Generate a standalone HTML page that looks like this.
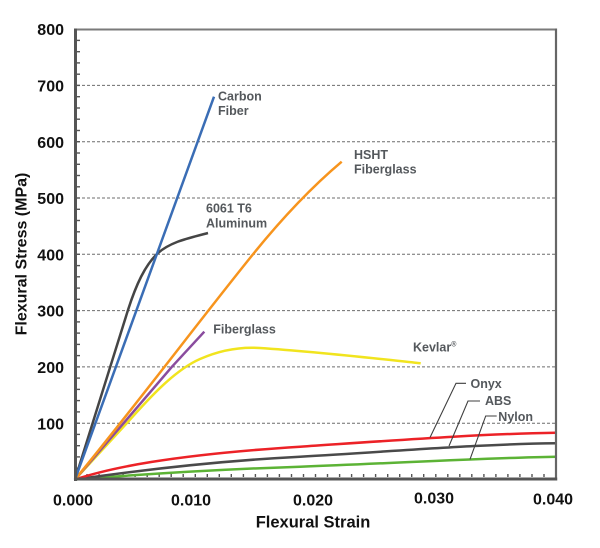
<!DOCTYPE html>
<html>
<head>
<meta charset="utf-8">
<style>
  html, body { margin: 0; padding: 0; background: #ffffff; }
  body { width: 600px; height: 548px; overflow: hidden; }
  svg { display: block; }
  .ax { font-family: "Liberation Sans", sans-serif; font-weight: bold; fill: #111; }
  .lb { font-family: "Liberation Sans", sans-serif; font-weight: bold; fill: #54585c; font-size: 12.5px; }
</style>
</head>
<body>
<svg width="600" height="548" viewBox="0 0 600 548" xmlns="http://www.w3.org/2000/svg">
  <rect x="0" y="0" width="600" height="548" fill="#ffffff"/>

  <!-- gridlines -->
  <g stroke="#6d6d6d" stroke-width="1" stroke-dasharray="3 2" fill="none">
    <line x1="77" y1="423.2" x2="555" y2="423.2"/>
    <line x1="77" y1="366.9" x2="555" y2="366.9"/>
    <line x1="77" y1="310.6" x2="555" y2="310.6"/>
    <line x1="77" y1="254.3" x2="555" y2="254.3"/>
    <line x1="77" y1="198.0" x2="555" y2="198.0"/>
    <line x1="77" y1="141.7" x2="555" y2="141.7"/>
    <line x1="77" y1="85.4" x2="555" y2="85.4"/>
  </g>

  <!-- left minor ticks (every 20 MPa) -->
  <g stroke="#555" stroke-width="1.4">
    <line x1="77" y1="468.2" x2="80" y2="468.2"/>
    <line x1="77" y1="456.9" x2="80" y2="456.9"/>
    <line x1="77" y1="445.7" x2="80" y2="445.7"/>
    <line x1="77" y1="434.4" x2="80" y2="434.4"/>
    <line x1="77" y1="423.2" x2="80" y2="423.2"/>
    <line x1="77" y1="411.9" x2="80" y2="411.9"/>
    <line x1="77" y1="400.6" x2="80" y2="400.6"/>
    <line x1="77" y1="389.4" x2="80" y2="389.4"/>
    <line x1="77" y1="378.1" x2="80" y2="378.1"/>
    <line x1="77" y1="366.9" x2="80" y2="366.9"/>
    <line x1="77" y1="355.6" x2="80" y2="355.6"/>
    <line x1="77" y1="344.4" x2="80" y2="344.4"/>
    <line x1="77" y1="333.1" x2="80" y2="333.1"/>
    <line x1="77" y1="321.9" x2="80" y2="321.9"/>
    <line x1="77" y1="310.6" x2="80" y2="310.6"/>
    <line x1="77" y1="299.3" x2="80" y2="299.3"/>
    <line x1="77" y1="288.1" x2="80" y2="288.1"/>
    <line x1="77" y1="276.8" x2="80" y2="276.8"/>
    <line x1="77" y1="265.6" x2="80" y2="265.6"/>
    <line x1="77" y1="254.3" x2="80" y2="254.3"/>
    <line x1="77" y1="243.1" x2="80" y2="243.1"/>
    <line x1="77" y1="231.8" x2="80" y2="231.8"/>
    <line x1="77" y1="220.5" x2="80" y2="220.5"/>
    <line x1="77" y1="209.3" x2="80" y2="209.3"/>
    <line x1="77" y1="198.0" x2="80" y2="198.0"/>
    <line x1="77" y1="186.8" x2="80" y2="186.8"/>
    <line x1="77" y1="175.5" x2="80" y2="175.5"/>
    <line x1="77" y1="164.3" x2="80" y2="164.3"/>
    <line x1="77" y1="153.0" x2="80" y2="153.0"/>
    <line x1="77" y1="141.7" x2="80" y2="141.7"/>
    <line x1="77" y1="130.5" x2="80" y2="130.5"/>
    <line x1="77" y1="119.2" x2="80" y2="119.2"/>
    <line x1="77" y1="108.0" x2="80" y2="108.0"/>
    <line x1="77" y1="96.7" x2="80" y2="96.7"/>
    <line x1="77" y1="85.4" x2="80" y2="85.4"/>
    <line x1="77" y1="74.2" x2="80" y2="74.2"/>
    <line x1="77" y1="62.9" x2="80" y2="62.9"/>
    <line x1="77" y1="51.7" x2="80" y2="51.7"/>
    <line x1="77" y1="40.4" x2="80" y2="40.4"/>
  </g>

  <!-- bottom minor ticks (every 0.001) -->
  <g stroke="#555" stroke-width="1.4">
    <line x1="87.0" y1="477" x2="87.0" y2="474"/>
    <line x1="99.1" y1="477" x2="99.1" y2="474"/>
    <line x1="111.1" y1="477" x2="111.1" y2="474"/>
    <line x1="123.1" y1="477" x2="123.1" y2="474"/>
    <line x1="135.1" y1="477" x2="135.1" y2="474"/>
    <line x1="147.2" y1="477" x2="147.2" y2="474"/>
    <line x1="159.2" y1="477" x2="159.2" y2="474"/>
    <line x1="171.2" y1="477" x2="171.2" y2="474"/>
    <line x1="183.2" y1="477" x2="183.2" y2="474"/>
    <line x1="195.3" y1="477" x2="195.3" y2="474"/>
    <line x1="207.3" y1="477" x2="207.3" y2="474"/>
    <line x1="219.3" y1="477" x2="219.3" y2="474"/>
    <line x1="231.3" y1="477" x2="231.3" y2="474"/>
    <line x1="243.4" y1="477" x2="243.4" y2="474"/>
    <line x1="255.4" y1="477" x2="255.4" y2="474"/>
    <line x1="267.4" y1="477" x2="267.4" y2="474"/>
    <line x1="279.4" y1="477" x2="279.4" y2="474"/>
    <line x1="291.5" y1="477" x2="291.5" y2="474"/>
    <line x1="303.5" y1="477" x2="303.5" y2="474"/>
    <line x1="315.5" y1="477" x2="315.5" y2="474"/>
    <line x1="327.5" y1="477" x2="327.5" y2="474"/>
    <line x1="339.6" y1="477" x2="339.6" y2="474"/>
    <line x1="351.6" y1="477" x2="351.6" y2="474"/>
    <line x1="363.6" y1="477" x2="363.6" y2="474"/>
    <line x1="375.6" y1="477" x2="375.6" y2="474"/>
    <line x1="387.7" y1="477" x2="387.7" y2="474"/>
    <line x1="399.7" y1="477" x2="399.7" y2="474"/>
    <line x1="411.7" y1="477" x2="411.7" y2="474"/>
    <line x1="423.7" y1="477" x2="423.7" y2="474"/>
    <line x1="435.8" y1="477" x2="435.8" y2="474"/>
    <line x1="447.8" y1="477" x2="447.8" y2="474"/>
    <line x1="459.8" y1="477" x2="459.8" y2="474"/>
    <line x1="471.8" y1="477" x2="471.8" y2="474"/>
    <line x1="483.9" y1="477" x2="483.9" y2="474"/>
    <line x1="495.9" y1="477" x2="495.9" y2="474"/>
    <line x1="507.9" y1="477" x2="507.9" y2="474"/>
    <line x1="519.9" y1="477" x2="519.9" y2="474"/>
    <line x1="532.0" y1="477" x2="532.0" y2="474"/>
    <line x1="544.0" y1="477" x2="544.0" y2="474"/>
  </g>

  <!-- series -->
  <g fill="none" stroke-width="2.5" stroke-linejoin="round" stroke-linecap="butt">
    <!-- Nylon (green) -->
    <path stroke="#5cb335" d="M75,479.5 C120,476 200,470 300,466.7 C400,463 480,458 556,456.7"/>
    <!-- ABS (dark gray) -->
    <path stroke="#4a4a4a" d="M75,479.5 C120,473 200,462 300,456.7 C400,451 480,444 556,443.3"/>
    <!-- Onyx (red) -->
    <path stroke="#ec2227" d="M75,479.5 C110,468 170,455 300,446.7 C400,440 480,434 556,432.7"/>
    <!-- Kevlar (yellow) -->
    <path stroke="#f1e41e" d="M75,479.5 L126.7,423.3 C150,397 175,370 200,359 C225,348 245,347 260,348 C320,352 380,359 420.7,363.3"/>
    <!-- Fiberglass (purple) -->
    <polyline stroke="#8a4c9e" points="75,479.5 123.5,423.3 172,366.7 204.3,331.7"/>
    <!-- HSHT Fiberglass (orange) -->
    <path stroke="#f7941d" d="M75,479.5 C140,400 200,320 250,258 C290,208 320,180 341.7,161.7"/>
    <!-- 6061 T6 Aluminum (gray) -->
    <path stroke="#454545" d="M75,479.5 L128,310 C136,285 145,265 158,253 C172,241 190,238 208,233"/>
    <!-- Carbon Fiber (blue) -->
    <line stroke="#3a6db5" x1="75" y1="479.5" x2="214" y2="96.7"/>
  </g>

  <!-- leader lines -->
  <g fill="none" stroke="#3f3f3f" stroke-width="1.1">
    <polyline points="430,437.5 456,383.3 466,383.3"/>
    <polyline points="449,446 468,401 480,401"/>
    <polyline points="470,459.3 485.7,416 496.7,416"/>
  </g>

  <!-- frame -->
  <line x1="74" y1="29.5" x2="557" y2="29.5" stroke="#7a7a7a" stroke-width="2"/>
  <line x1="556" y1="28.5" x2="556" y2="480.5" stroke="#666" stroke-width="2.2"/>
  <line x1="75.5" y1="28.5" x2="75.5" y2="481" stroke="#555" stroke-width="3"/>
  <line x1="74" y1="479" x2="557.2" y2="479" stroke="#555" stroke-width="3"/>

  <!-- series labels -->
  <text class="lb" x="218" y="100.7">Carbon</text>
  <text class="lb" x="218" y="115">Fiber</text>
  <text class="lb" x="354" y="159">HSHT</text>
  <text class="lb" x="354" y="173.5">Fiberglass</text>
  <text class="lb" x="206" y="212.3">6061 T6</text>
  <text class="lb" x="206" y="227.7">Aluminum</text>
  <text class="lb" x="213.3" y="333.3">Fiberglass</text>
  <text class="lb" x="413" y="351.7">Kevlar<tspan font-size="7" dy="-5">®</tspan></text>
  <text class="lb" x="470.5" y="388">Onyx</text>
  <text class="lb" x="485" y="405">ABS</text>
  <text class="lb" x="498.3" y="421">Nylon</text>

  <!-- y tick labels -->
  <g class="ax" font-size="16" text-anchor="end">
    <text x="64" y="35.2">800</text>
    <text x="64" y="91.5">700</text>
    <text x="64" y="147.8">600</text>
    <text x="64" y="204.1">500</text>
    <text x="64" y="260.4">400</text>
    <text x="64" y="316.7">300</text>
    <text x="64" y="373">200</text>
    <text x="64" y="429.3">100</text>
  </g>

  <!-- x tick labels -->
  <g class="ax" font-size="16" text-anchor="middle">
    <text x="73" y="505.6">0.000</text>
    <text x="191" y="505.6">0.010</text>
    <text x="313" y="505.6">0.020</text>
    <text x="434" y="503.6">0.030</text>
    <text x="553" y="504.6">0.040</text>
  </g>

  <!-- axis titles -->
  <text class="ax" font-size="16.5" x="313" y="527.3" text-anchor="middle">Flexural Strain</text>
  <text class="ax" font-size="16" text-anchor="middle" transform="translate(26.7,254) rotate(-90)">Flexural Stress (MPa)</text>
</svg>
</body>
</html>
